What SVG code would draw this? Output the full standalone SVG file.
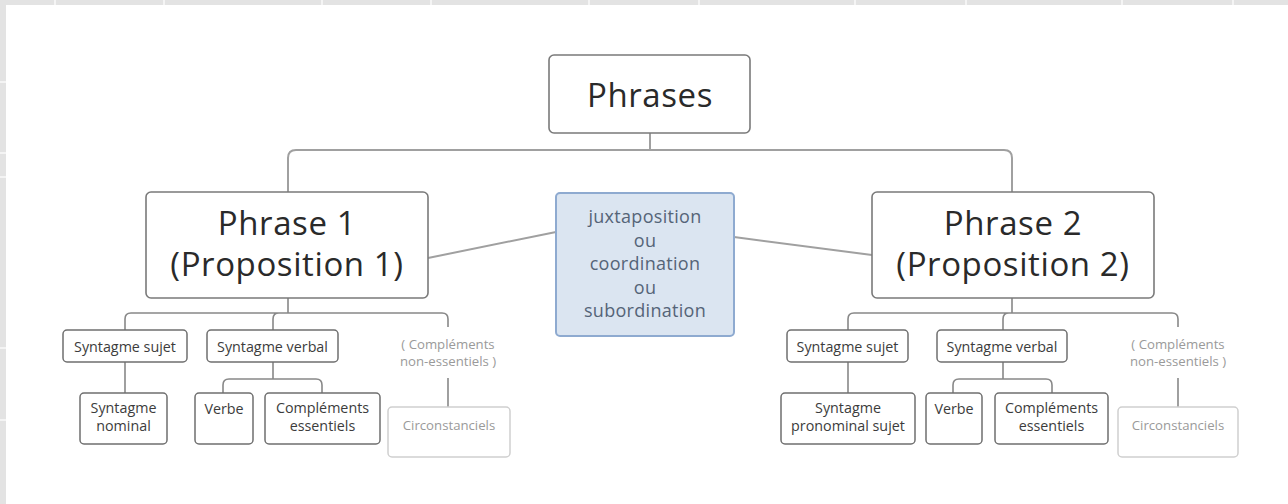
<svg xmlns="http://www.w3.org/2000/svg" width="1288" height="504" viewBox="0 0 1288 504">
<style>
.bg{fill:#e3e3e3}
.card{fill:#ffffff}
.grid{stroke:#f4f4f4;stroke-width:2}
.big{fill:#fff;stroke:#7a7a7a;stroke-width:1.6}
.mid{fill:#dbe5f1;stroke:#8eaad0;stroke-width:2}
.sm{fill:#fff;stroke:#6f6f6f;stroke-width:1.5}
.faint{fill:#fff;stroke:#cfcfcf;stroke-width:1.5}
.con{fill:none;stroke:#a0a0a0;stroke-width:2}
.con2{fill:none;stroke:#888;stroke-width:1.6}
text{font-family:"Open Sans","Noto Sans","Liberation Sans",sans-serif;text-anchor:middle}
.t1{font-size:33px;letter-spacing:0.6px;fill:#2a2a2a}
.t2{font-size:18px;letter-spacing:0.3px;fill:#556478}
.t3{font-size:14.3px;fill:#3c3c3c}
.t4{font-size:13.2px;fill:#9a9a9a}
</style>
<rect class="bg" x="0" y="0" width="1288" height="504"/>
<g id="margin-grid">
<line class="grid" x1="55" y1="0" x2="55" y2="5"/>
<line class="grid" x1="164" y1="0" x2="164" y2="5"/>
<line class="grid" x1="322" y1="0" x2="322" y2="5"/>
<line class="grid" x1="431" y1="0" x2="431" y2="5"/>
<line class="grid" x1="589" y1="0" x2="589" y2="5"/>
<line class="grid" x1="699" y1="0" x2="699" y2="5"/>
<line class="grid" x1="855" y1="0" x2="855" y2="5"/>
<line class="grid" x1="966" y1="0" x2="966" y2="5"/>
<line class="grid" x1="1122" y1="0" x2="1122" y2="5"/>
<line class="grid" x1="1233" y1="0" x2="1233" y2="5"/>
<line class="grid" x1="0" y1="82" x2="6" y2="82"/>
<line class="grid" x1="0" y1="153" x2="6" y2="153"/>
<line class="grid" x1="0" y1="177" x2="6" y2="177"/>
<line class="grid" x1="0" y1="348" x2="6" y2="348"/>
<line class="grid" x1="0" y1="420" x2="6" y2="420"/>
</g>
<rect class="card" x="6" y="5" width="1282" height="499"/>

<g id="connectors">
<path class="con" d="M650 133 V150 M296 150 H1004 Q1012 150 1012 158 V192 M296 150 Q288 150 288 158 V192"/>
<line class="con" x1="428" y1="258" x2="556" y2="232"/>
<line class="con" x1="734" y1="237" x2="872" y2="255"/>
<path class="con2" d="M288 298 V313 M131 313 H442 Q448 313 448 319 V327 M131 313 Q125 313 125 319 V330 M279 313 Q273 313 273 319 V330"/>
<path class="con2" d="M125 362 V393"/>
<path class="con2" d="M273 362 V379 M229 379 H316 Q322 379 322 385 V393 M229 379 Q223 379 223 385 V393"/>
<path class="con2" d="M448 378 V407"/>
<path class="con2" d="M1012 298 V313 M854 313 H1172 Q1178 313 1178 319 V327 M854 313 Q848 313 848 319 V330 M1009 313 Q1003 313 1003 319 V330"/>
<path class="con2" d="M848 362 V393"/>
<path class="con2" d="M1003 362 V379 M959 379 H1046 Q1052 379 1052 385 V393 M959 379 Q953 379 953 385 V393"/>
<path class="con2" d="M1178 378 V407"/>
</g>

<g id="phrases">
<rect class="big" x="549" y="55" width="201" height="78" rx="5"/>
<text class="t1" x="650" y="107">Phrases</text>
</g>
<g id="phrase1">
<rect class="big" x="146" y="192" width="282" height="106" rx="5"/>
<text class="t1" x="287" y="235">Phrase 1</text>
<text class="t1" x="287" y="276">(Proposition 1)</text>
</g>
<g id="liaison">
<rect class="mid" x="556" y="193" width="178" height="143" rx="4"/>
<text class="t2" x="645" y="223">juxtaposition</text>
<text class="t2" x="645" y="246.5">ou</text>
<text class="t2" x="645" y="270">coordination</text>
<text class="t2" x="645" y="293.5">ou</text>
<text class="t2" x="645" y="317">subordination</text>
</g>
<g id="phrase2">
<rect class="big" x="872" y="192" width="282" height="106" rx="5"/>
<text class="t1" x="1013" y="235">Phrase 2</text>
<text class="t1" x="1013" y="276">(Proposition 2)</text>
</g>

<g id="p1-sujet">
<rect class="sm" x="63" y="330" width="124" height="32" rx="4"/>
<text class="t3" x="125" y="352">Syntagme sujet</text>
</g>
<g id="p1-verbal">
<rect class="sm" x="207" y="330" width="131" height="32" rx="4"/>
<text class="t3" x="272.5" y="352">Syntagme verbal</text>
</g>
<g id="p1-noness">
<text class="t4" x="448" y="349">( Compléments</text>
<text class="t4" x="448" y="366">non-essentiels )</text>
</g>
<g id="p1-nominal">
<rect class="sm" x="80" y="393" width="87" height="51" rx="4"/>
<text class="t3" x="123.5" y="413">Syntagme</text>
<text class="t3" x="123.5" y="431">nominal</text>
</g>
<g id="p1-verbe">
<rect class="sm" x="195" y="393" width="58" height="51" rx="4"/>
<text class="t3" x="224" y="414">Verbe</text>
</g>
<g id="p1-compl">
<rect class="sm" x="265" y="393" width="115" height="51" rx="4"/>
<text class="t3" x="322.5" y="413">Compléments</text>
<text class="t3" x="322.5" y="431">essentiels</text>
</g>
<g id="p1-circ">
<rect class="faint" x="388" y="407" width="122" height="50" rx="4"/>
<text class="t4" x="449" y="430">Circonstanciels</text>
</g>

<g id="p2-sujet">
<rect class="sm" x="787" y="330" width="121" height="32" rx="4"/>
<text class="t3" x="847.5" y="352">Syntagme sujet</text>
</g>
<g id="p2-verbal">
<rect class="sm" x="937" y="330" width="130" height="32" rx="4"/>
<text class="t3" x="1002" y="352">Syntagme verbal</text>
</g>
<g id="p2-noness">
<text class="t4" x="1178" y="349">( Compléments</text>
<text class="t4" x="1178" y="366">non-essentiels )</text>
</g>
<g id="p2-pronominal">
<rect class="sm" x="781" y="393" width="134" height="51" rx="4"/>
<text class="t3" x="848" y="413">Syntagme</text>
<text class="t3" x="848" y="431">pronominal sujet</text>
</g>
<g id="p2-verbe">
<rect class="sm" x="926" y="393" width="56" height="51" rx="4"/>
<text class="t3" x="954" y="414">Verbe</text>
</g>
<g id="p2-compl">
<rect class="sm" x="995" y="393" width="113" height="51" rx="4"/>
<text class="t3" x="1051.5" y="413">Compléments</text>
<text class="t3" x="1051.5" y="431">essentiels</text>
</g>
<g id="p2-circ">
<rect class="faint" x="1118" y="407" width="120" height="50" rx="4"/>
<text class="t4" x="1178" y="430">Circonstanciels</text>
</g>
</svg>
